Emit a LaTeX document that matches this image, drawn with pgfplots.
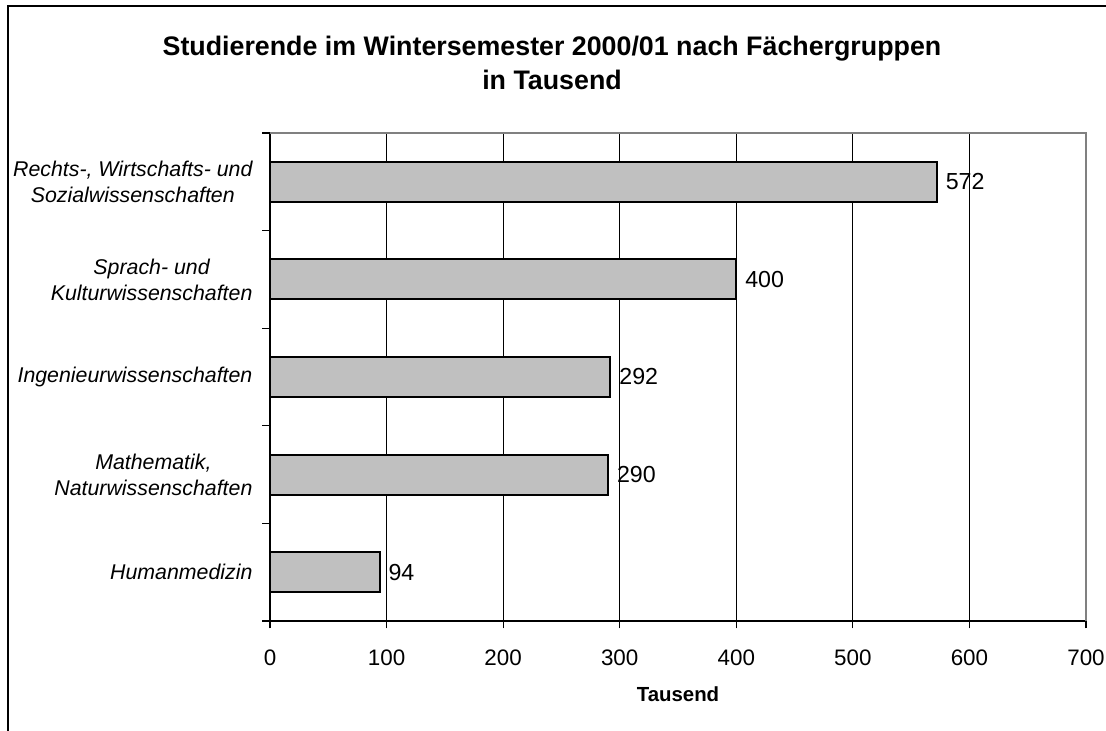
\documentclass[border=0pt]{standalone}
\usepackage{pgfplots}
\pgfplotsset{compat=1.18}
\usepackage{fontspec}
\setmainfont{Liberation Sans}
\definecolor{barfill}{RGB}{192,192,192}
\definecolor{frameg}{RGB}{128,128,128}
\begin{document}
\begin{tikzpicture}
\path[use as bounding box] (0,0) rectangle (829.5pt,548.25pt);
% outer frame (cut off at right and bottom)
\draw[line width=1.1pt,black] (6pt,-2pt) -- (6pt,543.75pt) -- (835pt,543.75pt);
% title
\node[align=center,font=\fontsize{20.1}{25.5}\selectfont\bfseries] at (414pt,524.5pt) [anchor=north]
  {Studierende im Wintersemester 2000/01 nach Fächergruppen\\in Tausend};
\begin{axis}[
  at={(202.5pt,82.5pt)}, anchor=south west,
  scale only axis, width=612pt, height=366pt,
  xbar, bar width=0.41,
  xmin=0, xmax=700, ymin=-0.5, ymax=4.5,
  axis lines=left, axis line style={-, line width=1.3pt, black},
  xtick={0,100,...,700},
  ytick={0,1,2,3,4},
  yticklabels={Humanmedizin, {Mathematik,\\Naturwissenschaften}, Ingenieurwissenschaften, {Sprach- und\\Kulturwissenschaften}, {Rechts-, Wirtschafts- und\\Sozialwissenschaften}},
  y tick label style={align=center, inner sep=0pt, xshift=-7.5pt, font=\fontsize{16}{19.5}\selectfont\itshape},
  x tick label style={font=\fontsize{16.8}{20}\selectfont, yshift=-12.75pt},
  /pgf/number format/assume math mode=true,
  tick align=outside,
  ytick style={draw=none},
  xtick style={line width=0.9pt, black},
  major tick length=5.5pt,
  extra y ticks={-0.5,0.5,1.5,2.5,3.5,4.5},
  extra y tick labels={},
  extra y tick style={ytick style={draw=black, line width=0.9pt}, major tick length=6pt},
  xmajorgrids, grid style={black, line width=0.7pt},
  xlabel={Tausend},
  xlabel style={font=\fontsize{15.3}{18}\selectfont\bfseries, yshift=-8.5pt},
  nodes near coords,
  nodes near coords style={font=\fontsize{17.4}{20}\selectfont, anchor=west, inner xsep=6pt},
  point meta=explicit symbolic,
  clip=false,
]
\addplot[fill=barfill, draw=black, line width=1.5pt] coordinates {
  (94,0) [94]
  (290,1) [290]
  (292,2) [292]
  (400,3) [400]
  (572,4) [572]
};
\draw[frameg, line width=1.5pt] (rel axis cs:0,1) -- (rel axis cs:1,1) -- (rel axis cs:1,0);
\end{axis}
\end{tikzpicture}
\end{document}
